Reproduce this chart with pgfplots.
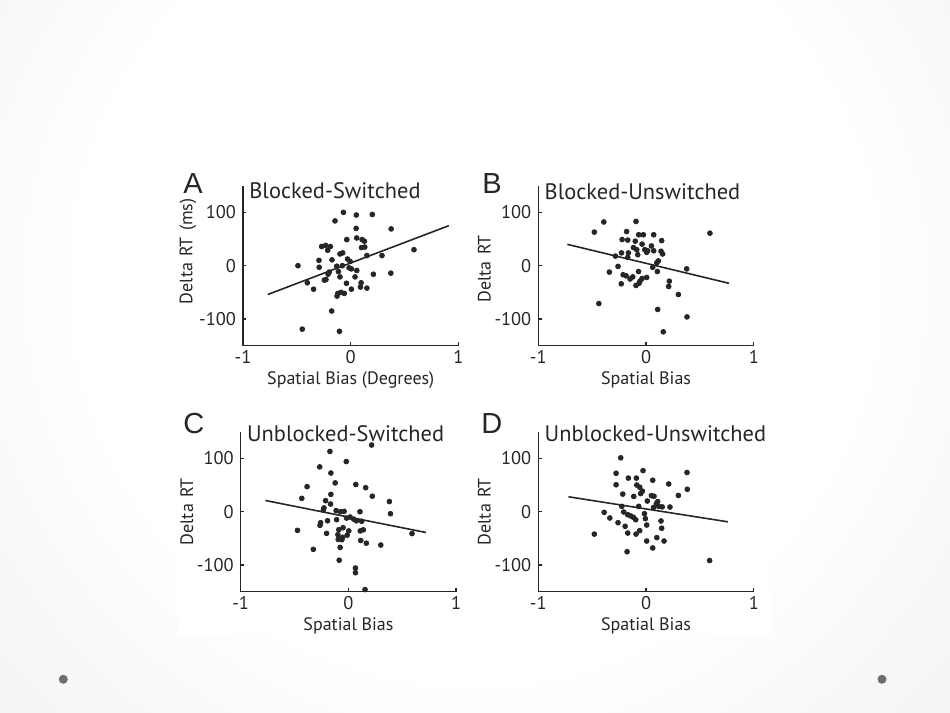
\documentclass[border=0pt]{standalone}
\usepackage{fontspec}
\setmainfont{PT Sans}
\newfontfamily\lettfont{Liberation Sans}
\usepackage{pgfplots}
\pgfplotsset{compat=1.18}
\definecolor{ink}{HTML}{262626}
\definecolor{bgedge}{HTML}{DCDCDC}
\definecolor{dotgray}{HTML}{6E6E6E}
\pgfdeclareradialshading{slidebg}{\pgfpoint{0bp}{0bp}}{color(0bp)=(white); color(15bp)=(white); color(44bp)=(bgedge); color(50bp)=(bgedge)}
\pgfplotsset{
  panel/.style={
    scale only axis, width=107.75pt, height=80pt,
    xmin=-1, xmax=1, ymin=-150, ymax=150,
    axis lines*=left,
    xtick={-1,0,1}, ytick={-100,0,100},
    tick align=inside, major tick length=1.6pt,
    axis line style={ink, line width=0.7pt},
    every tick/.style={ink, line width=0.7pt},
    tick label style={font=\fontsize{9.2}{10}\selectfont, text=ink},
    xticklabel style={yshift=-0.5pt, inner sep=1.5pt},
    /pgf/number format/assume math mode=true,
    label style={font=\fontsize{9}{11}\selectfont, text=ink},
    xlabel style={at={(rel axis cs:0.5,0)}, anchor=base, yshift=-19.6pt, inner sep=0pt},
    clip=false,
  },
  dots/.style={only marks, mark=*, mark size=1.2pt, ink},
  fit/.style={no marks, ink, line width=0.8pt},
}
\tikzset{
  ptitle/.style={anchor=base west, inner sep=0pt, xshift=3pt, font=\fontsize{11.2}{13}\selectfont, text=ink},
  plett/.style={anchor=base west, inner sep=0pt, font=\lettfont\fontsize{14.5}{16}\selectfont, text=ink},
}
\begin{document}
\begin{tikzpicture}
\useasboundingbox (0,0) rectangle (475pt,356.5pt);
\begin{scope}
\clip (0,0) rectangle (475pt,356.5pt);
\fill[bgedge] (0,0) rectangle (475pt,356.5pt);
\shade[shading=slidebg] (237.5pt,216.5pt) circle (330pt);
\end{scope}
\fill[white] (89pt,39pt) rectangle (385.35pt,274pt);
\fill[dotgray] (31.65pt,16.85pt) circle (2.25pt);
\fill[dotgray] (441pt,16.85pt) circle (2.25pt);

% Panel A
\begin{axis}[panel, at={(121.5pt,183.65pt)}, anchor=south west,
  xlabel={Spatial Bias (Degrees)}, ylabel={Delta\hspace{0.35em}RT\hspace{0.35em}(ms)},
  ylabel style={at={(rel axis cs:-0.255,0.59)}, anchor=center}]
\addplot[dots] coordinates {
(-0.068,100) (0.052,95) (0.20,96) (-0.146,84) (0.375,69) (0.05,70) (-0.037,49) (0.055,52) (0.105,49) (0.127,46) (-0.27,36) (-0.233,38) (-0.19,36) (-0.214,29) (0.10,34) (0.13,35) (-0.075,24) (-0.10,22) (0.587,30) (0.29,19) (0.15,19) (-0.295,10) (-0.174,11) (-0.03,12.5) (-0.006,8) (-0.49,0) (-0.293,-3) (-0.13,-1) (-0.078,0) (-0.016,-4) (0.006,-6) (0.056,-9) (-0.2,-12) (-0.21,-16) (-0.115,-11) (-0.1,-21) (0.04,-21) (0.21,-16) (0.372,-14) (-0.23,-26) (-0.245,-27) (-0.403,-32) (-0.04,-33) (0.096,-32) (0.09,-40) (0.15,-42) (-0.345,-44) (0.006,-44) (-0.12,-52) (-0.09,-50) (-0.06,-52) (-0.127,-57) (-0.177,-85) (-0.45,-119) (-0.105,-123)
};
\addplot[fit] coordinates {(-0.77,-54) (0.91,75)};
\node[ptitle, yshift=-6.5pt] at (rel axis cs:0,1) {Blocked-Switched};
\end{axis}

% Panel B
\begin{axis}[panel, at={(269.15pt,183.65pt)}, anchor=south west,
  xlabel={Spatial Bias}, ylabel={Delta\hspace{0.35em}RT},
  ylabel style={at={(rel axis cs:-0.25,0.48)}, anchor=center}]
\addplot[dots] coordinates {
(-0.392,82) (-0.093,83) (-0.48,63) (0.593,61) (-0.18,64) (-0.068,58) (-0.025,58) (0.071,58) (-0.222,49) (-0.17,48) (-0.10,46) (0.145,47) (-0.037,40.5) (-0.117,34) (0.05,37) (-0.086,30) (-0.012,30) (0.015,28) (0.071,28) (0.139,27) (-0.228,24) (-0.164,24) (-0.077,20.6) (0.006,25) (0.154,22) (-0.284,18) (-0.17,15.6) (0.114,9) (0.10,5.6) (0.062,-3) (0.377,-6) (-0.26,-1.3) (-0.34,-12) (0.105,-11) (-0.07,-11) (-0.213,-17) (-0.185,-19) (-0.123,-21) (-0.148,-25) (-0.037,-24) (0.006,-22) (-0.056,-29) (-0.065,-33) (-0.093,-37) (-0.23,-34) (0.216,-29) (0.21,-39) (0.30,-54) (-0.438,-71) (0.108,-82) (0.38,-96) (0.16,-124)
};
\addplot[fit] coordinates {(-0.73,40) (0.77,-33)};
\node[ptitle, yshift=-7pt] at (rel axis cs:0,1) {Blocked-Unswitched};
\end{axis}

% Panel C
\begin{axis}[panel, at={(120.35pt,60.65pt)}, anchor=south west,
  xlabel={Spatial Bias}, ylabel={Delta\hspace{0.35em}RT},
  ylabel style={at={(rel axis cs:-0.25,0.5)}, anchor=center}]
\addplot[dots] coordinates {
(0.215,125) (-0.172,113) (-0.02,94) (-0.267,84) (-0.163,72.5) (-0.123,54) (0.068,51) (0.16,45) (-0.384,47) (-0.163,32.5) (0.221,29) (-0.433,25) (-0.212,20.6) (0.38,19) (-0.166,14.4) (0.39,-3.8) (-0.227,7) (-0.233,3) (-0.114,2) (-0.074,0) (-0.04,0.7) (0.107,0) (-0.018,-12) (0.015,-10) (0.049,-14) (0.074,-17) (0.123,-18) (-0.11,-15) (-0.194,-17) (-0.258,-20.6) (-0.264,-25.6) (-0.473,-35) (-0.05,-30) (-0.089,-33.8) (-0.203,-40.6) (0.003,-36) (0.11,-36) (0.138,-34) (-0.098,-43) (-0.012,-44) (-0.055,-48) (-0.095,-52) (-0.061,-52.5) (0.114,-54) (0.166,-59) (0.30,-62.5) (-0.326,-70.6) (-0.077,-67) (-0.086,-91) (0.065,-105.6) (0.065,-114.4) (0.59,-41) (0.154,-146)
};
\addplot[fit] coordinates {(-0.77,21) (0.72,-39)};
\node[ptitle, yshift=-4.9pt] at (rel axis cs:0,1) {Unblocked-Switched};
\end{axis}

% Panel D
\begin{axis}[panel, at={(269.15pt,60.65pt)}, anchor=south west,
  xlabel={Spatial Bias}, ylabel={Delta\hspace{0.35em}RT},
  ylabel style={at={(rel axis cs:-0.25,0.5)}, anchor=center}]
\addplot[dots] coordinates {
(-0.235,101) (-0.028,77) (0.38,73.5) (-0.278,72) (-0.164,63) (-0.09,63) (0.062,59) (-0.278,50.5) (-0.086,50) (-0.059,46) (0.21,52) (0.383,42) (-0.034,38.6) (-0.05,34) (-0.216,33) (-0.114,28.7) (0.05,30) (0.074,29) (0.3,30.5) (0.012,20) (0.108,19) (0.096,15) (0.117,10) (0.15,9) (0.222,8.7) (0.07,8) (-0.068,10) (-0.225,10) (-0.389,-1.2) (-0.207,-0.6) (-0.17,-5.6) (-0.015,-3.7) (-0.336,-11.8) (-0.142,-8) (-0.117,-10.6) (-0.096,-15) (-0.006,-13) (-0.26,-20.6) (0.139,-17.4) (0.006,-25) (-0.194,-27.4) (0.145,-31) (-0.059,-35.5) (-0.48,-42) (-0.17,-40) (-0.093,-42) (0.1,-48.6) (0.167,-55) (0.006,-55) (0.062,-68) (-0.176,-75) (0.59,-91.6)
};
\addplot[fit] coordinates {(-0.72,28) (0.76,-19)};
\node[ptitle, yshift=-4.9pt] at (rel axis cs:0,1) {Unblocked-Unswitched};
\end{axis}

\node[plett] at (91.5pt,259.5pt) {A};
\node[plett] at (241pt,259.5pt) {B};
\node[plett] at (91.5pt,139.5pt) {C};
\node[plett] at (240.5pt,139.5pt) {D};
\end{tikzpicture}
\end{document}
